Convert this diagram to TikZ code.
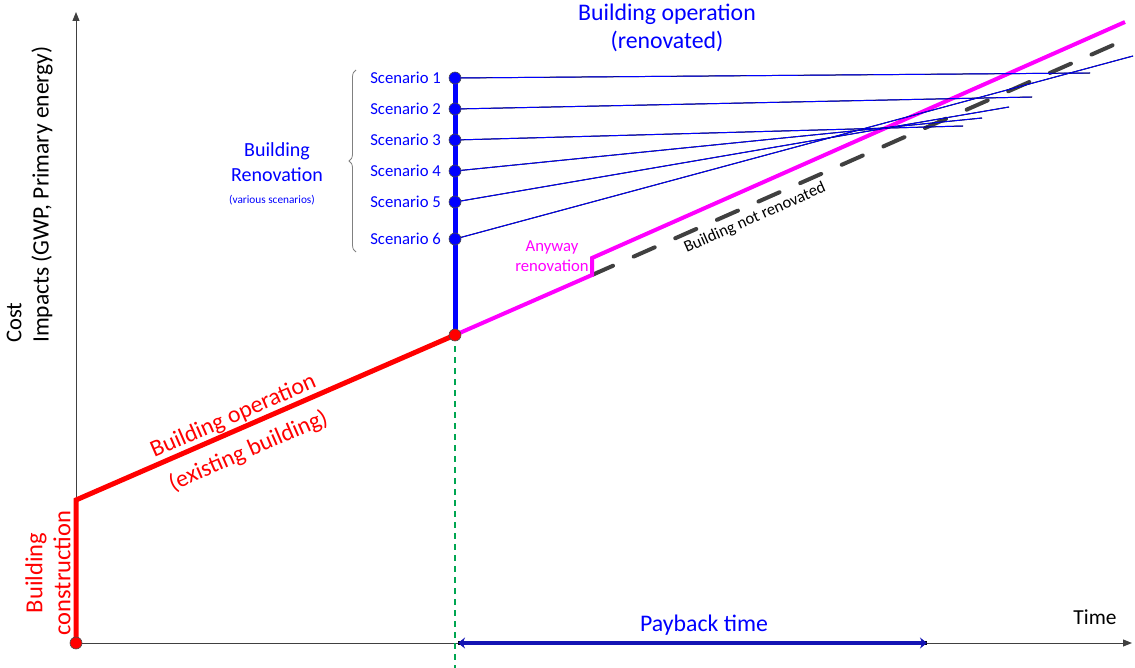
\documentclass[tikz,border=0pt]{standalone}
\usepackage{fontspec}
\setmainfont{Carlito}
\usepackage{tikz}
\usetikzlibrary{arrows.meta}
\usetikzlibrary{decorations.pathreplacing}
\definecolor{axisgray}{HTML}{404040}
\definecolor{scenblue}{HTML}{0000FF}
\definecolor{pink}{HTML}{FF00FF}
\definecolor{payblue}{HTML}{1414B4}
\definecolor{guidegreen}{HTML}{00A651}
\definecolor{shade}{HTML}{C8C8C8}

\begin{document}
\begin{tikzpicture}[x=1pt,y=-1pt,
	dot/.style={circle,draw=black!70,line width=0.6pt,inner sep=0pt,minimum size=12pt},
	lbl/.style={inner sep=0pt,align=center},
	axis/.style={axisgray,line width=1pt,-{Triangle[length=9pt,width=7pt]}}]
	\useasboundingbox (0,0) rectangle (1135,668);
	% points
	\coordinate (O) at (76,643);
	\coordinate (ytop) at (76,12);
	\coordinate (xend) at (1132,643);
	\coordinate (bc) at (76,500);
	\coordinate (ren) at (455,335);
	\coordinate (gbot) at (455,668);
	\coordinate (aw1) at (592,275);
	\coordinate (aw2) at (592,258);
	\coordinate (pend) at (1125,22);
	\coordinate (dend) at (1120,42);
	\coordinate (pb1) at (458,643);
	\coordinate (pb2) at (927,643);
	% axes
	\draw[axis] (O) -- (ytop);
	\draw[axis] (O) -- (xend);
	% payback
	\draw[guidegreen,line width=1.3pt,dash pattern=on 6pt off 5pt] (ren) -- (gbot);
	\draw[shade,line width=4pt,shift={(1,2)}] (pb1) -- (pb2);
	\draw[payblue,line width=4pt,{Stealth[length=7pt,width=11pt]}-{Stealth[length=7pt,width=11pt]}] (pb1) -- (pb2);
	% existing building
	\draw[red,line width=5pt] (O) -- (bc) -- (ren);
	% not renovated / anyway renovation
	\draw[axisgray,line width=4pt,line cap=round,dash pattern=on 23pt off 22.5pt] (aw1) -- (dend);
	\draw[pink,line width=4pt] (ren) -- (aw1) -- (aw2) -- (pend);
	% scenarios
	\draw[scenblue,line width=5pt] (ren) -- (455,78);
	\foreach \y/\ex/\ey [count=\i] in {78/1090/73, 109/1032/97, 140/963/126, 171/982/118, 202/1009/107, 239/1133/56}
	{
		\coordinate (p\i) at (455,\y);
		\coordinate (e\i) at (\ex,\ey);
		\draw[shade,line width=1pt,shift={(0,2)}] (p\i) -- (e\i);
		\draw[scenblue,line width=0.9pt] (p\i) -- (e\i);
	}
	\foreach \i in {1,...,6}
	{
		\node[dot,fill=scenblue] (s\i) at (p\i) {};
		\node[lbl,anchor=east,text=scenblue,font=\fontsize{16.7}{18}\selectfont] (l\i) at ([xshift=-14pt]p\i) {Scenario \i};
	}
	\node[dot,fill=red] (r0) at (O) {};
	\node[dot,fill=red] (r1) at (ren) {};
	% brace
	\draw[gray,line width=0.8pt,decorate,decoration={brace,amplitude=7pt}] (356,252) -- (356,70);
	% texts
	\node[lbl,text=scenblue,font=\fontsize{23.8}{28}\selectfont] (opren) at (667,28) {Building operation\\(renovated)};
	\node[lbl,text=scenblue,font=\fontsize{20}{25}\selectfont] (bren) at (277,162) {Building\\Renovation};
	\node[lbl,text=scenblue,font=\fontsize{11.3}{13}\selectfont] (various) at (272,200) {(various scenarios)};
	\node[lbl,text=pink,font=\fontsize{16.7}{19.5}\selectfont] (anyway) at (552,256) {Anyway\\renovation};
	\node[lbl,rotate=23.8,font=\fontsize{16.5}{18}\selectfont] (notren) at (755,218) {Building not renovated};
	\node[lbl,text=scenblue,font=\fontsize{23.8}{28}\selectfont] (payback) at (704,625) {Payback time};
	\node[lbl,font=\fontsize{21.4}{24}\selectfont] (time) at (1095,617) {Time};
	\node[lbl,rotate=90,anchor=west,font=\fontsize{22.6}{26}\selectfont] (cost) at (14,343) {Cost};
	\node[lbl,rotate=90,anchor=west,font=\fontsize{23.5}{26}\selectfont] (impacts) at (42,343) {Impacts (GWP, Primary energy)};
	\node[lbl,rotate=90,text=red,font=\fontsize{24.5}{28}\selectfont] (constr) at (48,573) {Building\\construction};
	\node[lbl,rotate=23.5,text=red,font=\fontsize{23.8}{38}\selectfont] (opex) at (241,434) {Building operation\\(existing building)};
\end{tikzpicture}
\end{document}
